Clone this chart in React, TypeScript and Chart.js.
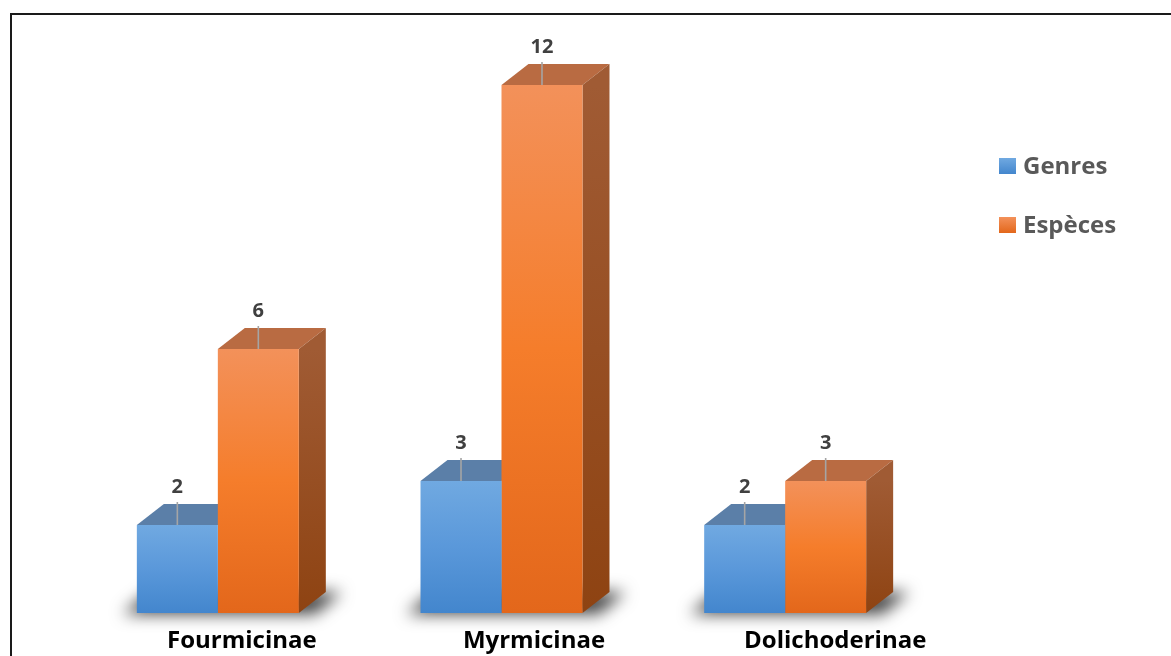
import React, { useEffect, useRef } from "react";
import { Chart, registerables } from "chart.js";

Chart.register(...registerables);

const categories = ["Fourmicinae", "Myrmicinae", "Dolichoderinae"];
const seriesNames = ["Genres", "Espèces"];
const genresValues = [2, 3, 2];
const especesValues = [6, 12, 3];

const W = 1171;
const H = 656;
const DX = 27;
const DY = 21;
const FONT = "'Open Sans', 'Noto Sans', sans-serif";

const frontStops = [
  ["#70a9e1", "#5a98da", "#4386cd"],
  ["#f3915a", "#f57d2b", "#e3671b"],
];
const topColors = ["#5b7fa8", "#b96b42"];
const sideStops = [
  ["#4a6f98", "#3a5f88"],
  ["#a05b34", "#8e4312"],
];

function frontGradient(ds: number) {
  return (c: any) => {
    const chart = c.chart;
    if (!chart.chartArea || c.raw === undefined) return frontStops[ds][1];
    const y = chart.scales.y;
    const top = y.getPixelForValue(c.raw);
    const bottom = y.getPixelForValue(0);
    const g = chart.ctx.createLinearGradient(0, top, 0, bottom);
    g.addColorStop(0, frontStops[ds][0]);
    g.addColorStop(0.5, frontStops[ds][1]);
    g.addColorStop(1, frontStops[ds][2]);
    return g;
  };
}

const threeD = {
  id: "threeD",
  beforeDatasetsDraw(chart: any) {
    const ctx = chart.ctx;
    const m0 = chart.getDatasetMeta(0).data;
    const m1 = chart.getDatasetMeta(1).data;
    for (let i = 0; i < m0.length; i++) {
      const a = m0[i], b = m1[i];
      const left = a.x - a.width / 2;
      const right = b.x + b.width / 2;
      const base = a.base;
      ctx.save();
      const off = 5000;
      ctx.shadowColor = "rgba(0,0,0,0.75)";
      ctx.shadowBlur = 16;
      ctx.shadowOffsetX = off;
      ctx.shadowOffsetY = 0;
      ctx.fillStyle = "#000";
      ctx.beginPath();
      ctx.moveTo(left - 14 - off, base + 1);
      ctx.lineTo(left + DX - 14 - off, base - DY);
      ctx.lineTo(right + DX + 16 - off, base - DY);
      ctx.lineTo(right + 16 - off, base + 1);
      ctx.closePath();
      ctx.fill();
      ctx.restore();
    }
    [m0, m1].forEach((meta: any[], ds: number) => {
      meta.forEach((el: any) => {
        const left = el.x - el.width / 2;
        const right = el.x + el.width / 2;
        const top = el.y;
        const bottom = el.base;
        ctx.save();
        ctx.fillStyle = topColors[ds];
        ctx.beginPath();
        ctx.moveTo(left, top);
        ctx.lineTo(left + DX, top - DY);
        ctx.lineTo(right + DX, top - DY);
        ctx.lineTo(right, top);
        ctx.closePath();
        ctx.fill();
        const g = ctx.createLinearGradient(0, top, 0, bottom);
        g.addColorStop(0, sideStops[ds][0]);
        g.addColorStop(1, sideStops[ds][1]);
        ctx.fillStyle = g;
        ctx.beginPath();
        ctx.moveTo(right, top);
        ctx.lineTo(right + DX, top - DY);
        ctx.lineTo(right + DX, bottom - DY);
        ctx.lineTo(right, bottom);
        ctx.closePath();
        ctx.fill();
        ctx.restore();
      });
    });
  },
  afterDatasetsDraw(chart: any) {
    const ctx = chart.ctx;
    chart.data.datasets.forEach((dset: any, ds: number) => {
      chart.getDatasetMeta(ds).data.forEach((el: any, i: number) => {
        const top = el.y;
        ctx.save();
        ctx.strokeStyle = "#a5a5a5";
        ctx.lineWidth = 1.6;
        ctx.beginPath();
        ctx.moveTo(el.x, top - 23);
        ctx.lineTo(el.x, top);
        ctx.stroke();
        ctx.fillStyle = "#404040";
        ctx.font = `bold 20px ${FONT}`;
        ctx.textAlign = "center";
        ctx.textBaseline = "alphabetic";
        ctx.fillText(String(dset.data[i]), el.x, top - 32);
        ctx.restore();
      });
    });
  },
  afterDraw(chart: any) {
    const ctx = chart.ctx;
    const xs = chart.scales.x;
    const area = chart.chartArea;
    ctx.save();
    ctx.fillStyle = "#000000";
    ctx.font = `bold 24px ${FONT}`;
    ctx.textAlign = "center";
    ctx.textBaseline = "alphabetic";
    const firstX = xs.getPixelForValue(0);
    chart.data.labels.forEach((lab: string, i: number) => {
      const x = xs.getPixelForValue(i);
      const d = x - firstX;
      const shift = 24 + d * 0.0141 + d * d * 0.000056;
      ctx.fillText(lab, x + shift, area.bottom + 35);
    });
    ctx.restore();
    const legendY = [166, 225];
    chart.data.datasets.forEach((dset: any, ds: number) => {
      const cy = legendY[ds];
      ctx.save();
      const g = ctx.createLinearGradient(0, cy - 8, 0, cy + 8);
      g.addColorStop(0, frontStops[ds][0]);
      g.addColorStop(1, frontStops[ds][2]);
      ctx.fillStyle = g;
      ctx.fillRect(999, cy - 8, 17, 16);
      ctx.fillStyle = "#595959";
      ctx.font = `bold 24px ${FONT}`;
      ctx.textAlign = "left";
      ctx.textBaseline = "alphabetic";
      ctx.fillText(dset.label, 1023, cy + 8);
      ctx.restore();
    });
    ctx.save();
    ctx.strokeStyle = "#1a1a1a";
    ctx.lineWidth = 2;
    ctx.beginPath();
    ctx.moveTo(11, H);
    ctx.lineTo(11, 14);
    ctx.lineTo(W, 14);
    ctx.stroke();
    ctx.restore();
  },
};

export default function App() {
  const ref = useRef<HTMLCanvasElement | null>(null);
  useEffect(() => {
    if (!ref.current) return;
    const chart = new Chart(ref.current, {
      type: "bar",
      data: {
        labels: categories,
        datasets: [
          {
            label: seriesNames[0],
            data: genresValues,
            backgroundColor: frontGradient(0),
            borderWidth: 0,
            categoryPercentage: 0.571,
            barPercentage: 1,
          },
          {
            label: seriesNames[1],
            data: especesValues,
            backgroundColor: frontGradient(1),
            borderWidth: 0,
            categoryPercentage: 0.571,
            barPercentage: 1,
          },
        ],
      },
      options: {
        responsive: false,
        animation: false,
        devicePixelRatio: 1,
        layout: { padding: { left: 76, right: 244, top: 41, bottom: 43 } },
        plugins: {
          legend: { display: false },
          tooltip: { enabled: false },
          title: { display: false },
        },
        scales: {
          x: { display: false, offset: true },
          y: { display: false, min: 0, max: 13 },
        },
      },
      plugins: [threeD],
    });
    return () => chart.destroy();
  }, []);
  return (
    <div style={{ position: "fixed", left: 0, top: 0, width: W, height: H, background: "#fff" }}>
      <canvas ref={ref} width={W} height={H} style={{ display: "block" }} />
    </div>
  );
}
